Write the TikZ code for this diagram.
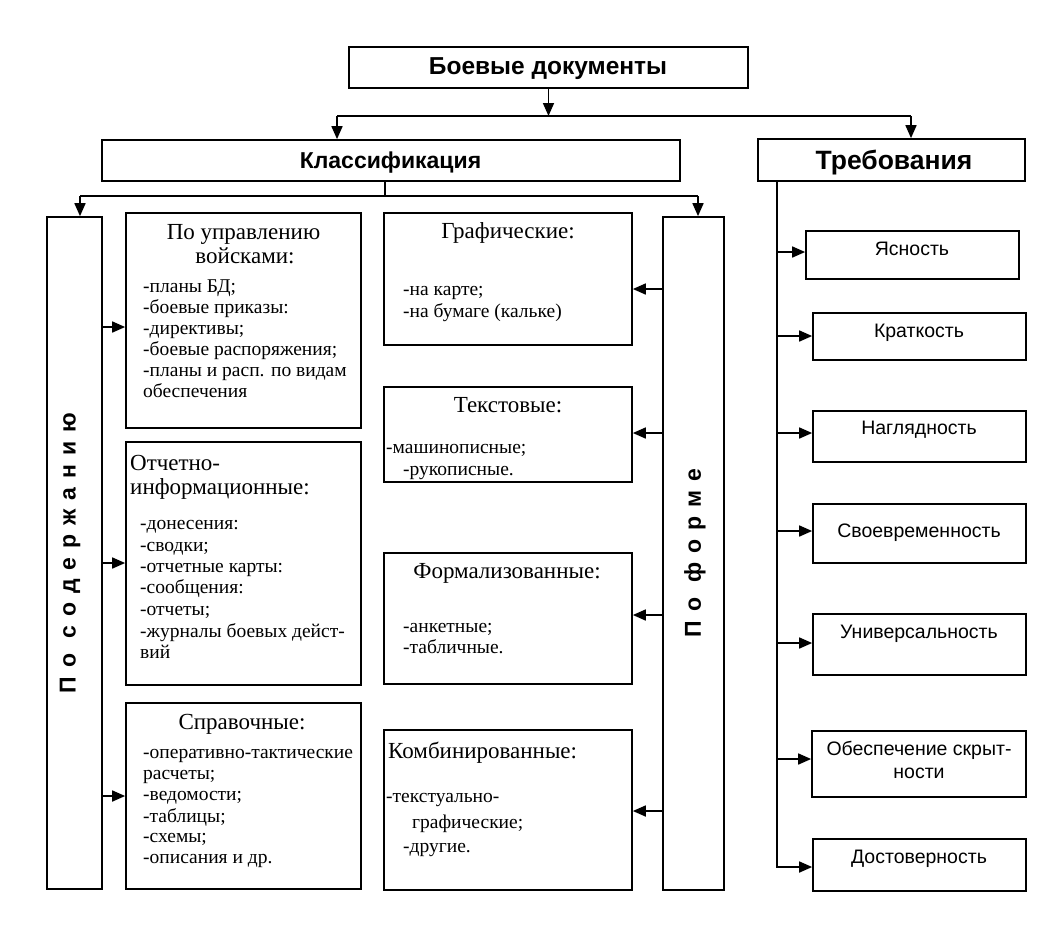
\documentclass[tikz,border=0pt]{standalone}
\usepackage{fontspec}
\setmainfont{Liberation Serif}
\newfontfamily\arialf{Liberation Sans}
\usetikzlibrary{arrows.meta}
\newcommand\mkbox[5]{\node[boxst, minimum width={(#4)-(#2)}, minimum height={(#5)-(#3)}] (#1) at ({((#2)+(#4))/2},{((#3)+(#5))/2}) {};}
\begin{document}
\begin{tikzpicture}[x=1pt,y=-1pt,
  boxst/.style={draw, line width=1.7pt, inner sep=0pt, rectangle},
  arr/.style={line width=1.7pt, -{Triangle[length=13pt,width=11pt]}},
  ln/.style={line width=1.7pt},
  hd/.style={font=\fontsize{23}{26}\selectfont, inner sep=0pt, anchor=base},
  hdl/.style={font=\fontsize{23}{26}\selectfont, inner sep=0pt, anchor=base west},
  it/.style={font=\fontsize{19.5}{21}\selectfont, inner sep=0pt, anchor=base west},
  rq/.style={font=\arialf\fontsize{19.5}{22}\selectfont, inner sep=0pt, anchor=base},
  bh/.style={font=\arialf\bfseries\fontsize{#1}{#1}\selectfont, inner sep=0pt, anchor=base},
  vt/.style={font=\arialf\bfseries\fontsize{23}{26}\selectfont\addfontfeature{LetterSpace=39}, inner sep=0pt, rotate=90},
]
\fill[white] (0,0) rectangle (1063,932);
\useasboundingbox (0,0) rectangle (1063,932);
% boxes
\mkbox{top}{349}{47}{748}{88}
\mkbox{klass}{102}{140}{680}{181}
\mkbox{treb}{758}{139}{1025}{181}
\mkbox{ltall}{47}{217}{102}{889}
\mkbox{rtall}{663}{217}{724}{890}
\mkbox{b1}{126}{213}{361}{428}
\mkbox{b2}{126}{442}{361}{685}
\mkbox{b3}{126}{703}{361}{889}
\mkbox{g1}{384}{213}{632}{345}
\mkbox{g2}{384}{387}{632}{482}
\mkbox{g3}{384}{553}{632}{684}
\mkbox{g4}{384}{730}{632}{890}
\mkbox{r1}{806}{231}{1019}{279}
\mkbox{r2}{813}{313}{1026}{360}
\mkbox{r3}{813}{411}{1026}{462}
\mkbox{r4}{813}{504}{1026}{563}
\mkbox{r5}{813}{614}{1026}{675}
\mkbox{r6}{812}{731}{1026}{797}
\mkbox{r7}{813}{839}{1026}{891}
% headings
\node[bh=24.5] (tt) at (548,74) {Боевые документы};
\node[bh=23] (kt) at (390.5,168) {Классификация};
\node[bh=26.5] (trt) at (894,169) {Требования};
\node[vt] (lts) at (70,553) {По содержанию};
\node[vt] (rts) at (695,553) {По форме};
% connectors top
\coordinate (ka) at (337,116);
\coordinate (ta) at (911,116);
\draw[arr] (top.south) -- (top.south |- ka);
\draw[ln] (ka) -- (ta);
\draw[arr] (ka) -- (ka |- klass.north);
\draw[arr] (ta) -- (ta |- treb.north);
\coordinate (kb) at (385,196);
\coordinate (la) at (80,196);
\coordinate (ra) at (698,196);
\draw[ln] (kb |- klass.south) -- (kb);
\draw[ln] (la) -- (ra);
\draw[arr] (la) -- (la |- ltall.north);
\draw[arr] (ra) -- (ra |- rtall.north);
% left arrows
\draw[arr] (ltall.east |- 0,327) -- (b1.west |- 0,327);
\draw[arr] (ltall.east |- 0,563) -- (b2.west |- 0,563);
\draw[arr] (ltall.east |- 0,796) -- (b3.west |- 0,796);
% middle arrows
\draw[arr] (rtall.west |- 0,289) -- (g1.east |- 0,289);
\draw[arr] (rtall.west |- 0,433) -- (g2.east |- 0,433);
\draw[arr] (rtall.west |- 0,615) -- (g3.east |- 0,615);
\draw[arr] (rtall.west |- 0,811) -- (g4.east |- 0,811);
% right arrows
\coordinate (tv) at (777,867);
\draw[arr] (treb.south -| tv) -- (tv) -- (r7.west |- tv);
\draw[arr] (tv |- 0,252) -- (r1.west |- 0,252);
\draw[arr] (tv |- 0,336) -- (r2.west |- 0,336);
\draw[arr] (tv |- 0,433) -- (r3.west |- 0,433);
\draw[arr] (tv |- 0,531) -- (r4.west |- 0,531);
\draw[arr] (tv |- 0,643) -- (r5.west |- 0,643);
\draw[arr] (tv |- 0,759) -- (r6.west |- 0,759);
% box 1
\node[hd] (b1h1) at (243.5,239) {По управлению};
\node[hd] (b1h2) at (245,263) {войсками:};
\node[it] (b1l1) at (143,292) {-планы БД;};
\node[it] (b1l2) at (143,313) {-боевые приказы:};
\node[it] (b1l3) at (143,334) {-директивы;};
\node[it] (b1l4) at (143,355) {-боевые распоряжения;};
\node[it] (b1l5) at (143,376) {-планы и расп. по видам};
\node[it] (b1l6) at (143,397) {обеспечения};
% box 2
\node[hdl] (b2h1) at (130,470) {Отчетно-};
\node[hdl] (b2h2) at (130,494) {информационные:};
\node[it] (b2l1) at (140,529) {-донесения:};
\node[it] (b2l2) at (140,551) {-сводки;};
\node[it] (b2l3) at (140,572) {-отчетные карты:};
\node[it] (b2l4) at (140,593) {-сообщения:};
\node[it] (b2l5) at (140,615) {-отчеты;};
\node[it] (b2l6) at (140,637) {-журналы боевых дейст-};
\node[it] (b2l7) at (140,658) {вий};
% box 3
\node[hd] (b3h1) at (242,729) {Справочные:};
\node[it] (b3l1) at (143,758) {-оперативно-тактические};
\node[it] (b3l2) at (143,779) {расчеты;};
\node[it] (b3l3) at (143,800) {-ведомости;};
\node[it] (b3l4) at (143,822) {-таблицы;};
\node[it] (b3l5) at (143,842) {-схемы;};
\node[it] (b3l6) at (143,863) {-описания и др.};
% middle boxes
\node[hd] (g1h) at (508,238) {Графические:};
\node[it] (g1l1) at (403,295) {-на карте;};
\node[it] (g1l2) at (403,317) {-на бумаге (кальке)};
\node[hd] (g2h) at (508,412) {Текстовые:};
\node[it] (g2l1) at (386,453) {-машинописные;};
\node[it] (g2l2) at (403,475) {-рукописные.};
\node[hd] (g3h) at (507,578) {Формализованные:};
\node[it] (g3l1) at (403,632) {-анкетные;};
\node[it] (g3l2) at (403,653) {-табличные.};
\node[hdl] (g4h) at (388,758) {Комбинированные:};
\node[it] (g4l1) at (386,802) {-текстуально-};
\node[it] (g4l2) at (412,828) {графические;};
\node[it] (g4l3) at (403,852) {-другие.};
% right boxes
\node[rq] (r1t) at (912,255) {Ясность};
\node[rq] (r2t) at (919,337) {Краткость};
\node[rq] (r3t) at (919,434) {Наглядность};
\node[rq] (r4t) at (919,537) {Своевременность};
\node[rq] (r5t) at (919,638) {Универсальность};
\node[rq] (r6t) at (919,755) {Обеспечение скрыт-};
\node[rq] (r6u) at (919,778) {ности};
\node[rq] (r7t) at (919,863) {Достоверность};
\end{tikzpicture}
\end{document}
